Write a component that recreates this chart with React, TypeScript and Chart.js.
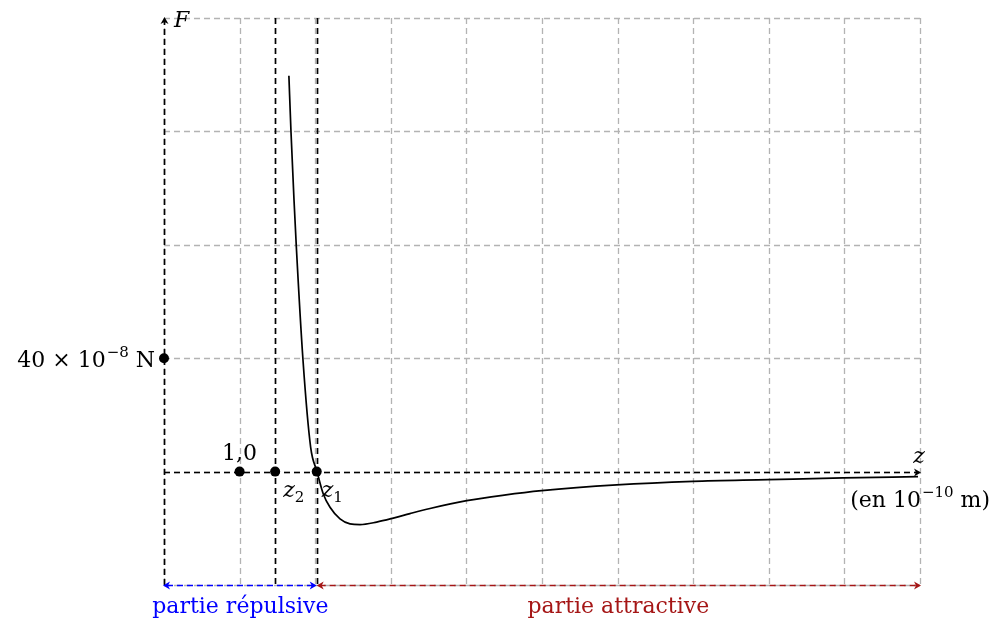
import React, { useEffect, useRef } from "react";
import { Chart, registerables } from "chart.js";

Chart.register(...registerables);

// Curve F(z): z in 1e-10 m, F in units of 40e-8 N
const zValues = [1.652, 1.68, 1.72, 1.75, 1.838, 1.94, 2.024, 2.107, 2.196, 2.328, 2.46, 2.593, 2.813, 3.033, 3.254, 3.519, 4.004, 4.5, 4.996, 5.988, 6.997, 7.989, 8.981, 9.974];
const forceValues = [3.49, 2.992, 2.39, 1.987, 0.988, 0.214, 0, -0.197, -0.315, -0.417, -0.461, -0.467, -0.445, -0.41, -0.37, -0.325, -0.256, -0.207, -0.168, -0.117, -0.086, -0.071, -0.056, -0.044];

const xGridValues = [0, 1, 2, 3, 4, 5, 6, 7, 8, 9, 10];
const yGridValues = [-1, 0, 1, 2, 3, 4];
const z2Value = 1.47;
const z1Value = 2.02;
const markPointsX = [0, 1, z2Value, z1Value];
const markPointsY = [1, 0, 0, 0];

const SERIF = "'DejaVu Serif', 'Liberation Serif', serif";
const BIG = `22px ${SERIF}`;
const SMALL = `15px ${SERIF}`;
const ITAL = `italic 22px ${SERIF}`;

function arrowHead(ctx: CanvasRenderingContext2D, x: number, y: number, dir: "up" | "right" | "left", color: string) {
  ctx.save();
  ctx.fillStyle = color;
  ctx.beginPath();
  if (dir === "up") {
    ctx.moveTo(x, y - 1);
    ctx.lineTo(x - 4, y + 6);
    ctx.lineTo(x, y + 4);
    ctx.lineTo(x + 4, y + 6);
  } else if (dir === "right") {
    ctx.moveTo(x + 1, y);
    ctx.lineTo(x - 6, y - 4);
    ctx.lineTo(x - 4, y);
    ctx.lineTo(x - 6, y + 4);
  } else {
    ctx.moveTo(x - 1, y);
    ctx.lineTo(x + 6, y - 4);
    ctx.lineTo(x + 4, y);
    ctx.lineTo(x + 6, y + 4);
  }
  ctx.closePath();
  ctx.fill();
  ctx.restore();
}

const overlayPlugin = {
  id: "overlay",
  beforeDatasetsDraw(chart: any) {
    const ctx: CanvasRenderingContext2D = chart.ctx;
    const xs = chart.scales.x;
    const ys = chart.scales.y;
    const left = xs.getPixelForValue(0);
    const right = xs.getPixelForValue(10);
    const top = ys.getPixelForValue(4);
    const bottom = ys.getPixelForValue(-1);
    ctx.save();
    // grid
    ctx.strokeStyle = "#b3b3b3";
    ctx.lineWidth = 1.3;
    ctx.setLineDash([6, 4]);
    for (const v of xGridValues) {
      const px = Math.round(xs.getPixelForValue(v)) + 0.5;
      ctx.beginPath();
      ctx.moveTo(px, top);
      ctx.lineTo(px, bottom);
      ctx.stroke();
    }
    for (const v of yGridValues) {
      const py = Math.round(ys.getPixelForValue(v)) + 0.5;
      ctx.beginPath();
      ctx.moveTo(left, py);
      ctx.lineTo(right, py);
      ctx.stroke();
    }
    // black dashed axes
    ctx.strokeStyle = "#000";
    ctx.lineWidth = 1.7;
    ctx.setLineDash([6, 4]);
    const y0 = Math.round(ys.getPixelForValue(0)) + 0.5;
    ctx.beginPath();
    ctx.moveTo(left, y0);
    ctx.lineTo(right - 3, y0);
    ctx.stroke();
    const x0 = Math.round(left) + 0.5;
    ctx.beginPath();
    ctx.moveTo(x0, bottom);
    ctx.lineTo(x0, top + 3);
    ctx.stroke();
    for (const v of [z2Value, z1Value]) {
      const px = Math.round(xs.getPixelForValue(v)) + 0.5;
      ctx.beginPath();
      ctx.moveTo(px, top);
      ctx.lineTo(px, bottom);
      ctx.stroke();
    }
    ctx.setLineDash([]);
    arrowHead(ctx, x0, top, "up", "#000");
    arrowHead(ctx, right, y0, "right", "#000");

    // bottom arrows
    const yb = Math.round(bottom) + 0.5;
    const xz1 = xs.getPixelForValue(z1Value);
    ctx.lineWidth = 1.5;
    ctx.setLineDash([6, 4]);
    ctx.strokeStyle = "#0000ff";
    ctx.beginPath();
    ctx.moveTo(left + 3, yb);
    ctx.lineTo(xz1 - 3, yb);
    ctx.stroke();
    ctx.strokeStyle = "#a51616";
    ctx.beginPath();
    ctx.moveTo(xz1 + 3, yb);
    ctx.lineTo(right - 3, yb);
    ctx.stroke();
    ctx.setLineDash([]);
    arrowHead(ctx, left, yb, "left", "#0000ff");
    arrowHead(ctx, xz1 - 1, yb, "right", "#0000ff");
    arrowHead(ctx, xz1 + 1, yb, "left", "#a51616");
    arrowHead(ctx, right, yb, "right", "#a51616");
    ctx.restore();
  },
  afterDatasetsDraw(chart: any) {
    const ctx: CanvasRenderingContext2D = chart.ctx;
    const xs = chart.scales.x;
    const ys = chart.scales.y;
    ctx.save();
    ctx.fillStyle = "#000";
    for (let i = 0; i < markPointsX.length; i++) {
      ctx.beginPath();
      ctx.arc(xs.getPixelForValue(markPointsX[i]), ys.getPixelForValue(markPointsY[i]), 5, 0, Math.PI * 2);
      ctx.fill();
    }
    const left = xs.getPixelForValue(0);
    const right = xs.getPixelForValue(10);
    const top = ys.getPixelForValue(4);
    const y0 = ys.getPixelForValue(0);
    const y1 = ys.getPixelForValue(1);
    const bottom = ys.getPixelForValue(-1);
    ctx.textBaseline = "alphabetic";

    // F
    ctx.font = ITAL;
    ctx.textAlign = "left";
    ctx.fillText("F", left + 10, top + 9);

    // 40 x 10^-8 N
    ctx.font = BIG;
    const p1 = "40 × 10";
    const p3 = " N";
    const w1 = ctx.measureText(p1).width;
    const w3 = ctx.measureText(p3).width;
    ctx.font = SMALL;
    const sup = "−8";
    const wSup = ctx.measureText(sup).width;
    const xStart = left - 9 - (w1 + wSup + w3 + 1);
    const base = y1 + 9;
    ctx.font = BIG;
    ctx.fillText(p1, xStart, base);
    ctx.font = SMALL;
    ctx.fillText(sup, xStart + w1 + 1, base - 10);
    ctx.font = BIG;
    ctx.fillText(p3, xStart + w1 + wSup + 1, base);

    // 1,0
    ctx.textAlign = "center";
    ctx.fillText("1,0", xs.getPixelForValue(1), y0 - 12);

    // z2, z1
    ctx.textAlign = "left";
    const zl = (x: number, sub: string) => {
      ctx.font = ITAL;
      ctx.fillText("z", x, y0 + 25);
      const w = ctx.measureText("z").width;
      ctx.font = SMALL;
      ctx.fillText(sub, x + w, y0 + 30);
    };
    zl(xs.getPixelForValue(z2Value) + 8, "2");
    zl(xs.getPixelForValue(z1Value) + 5, "1");

    // z axis label
    ctx.font = ITAL;
    ctx.textAlign = "center";
    ctx.fillText("z", right - 1, y0 - 9);

    // (en 10^-10 m)
    ctx.textAlign = "left";
    ctx.font = BIG;
    const a = "(en 10";
    const c = " m)";
    const wa = ctx.measureText(a).width;
    const wc = ctx.measureText(c).width;
    ctx.font = SMALL;
    const sb = "−10";
    const wb = ctx.measureText(sb).width;
    const xe = 990 - (wa + wb + wc + 1);
    const bb = y0 + 35;
    ctx.font = BIG;
    ctx.fillText(a, xe, bb);
    ctx.font = SMALL;
    ctx.fillText(sb, xe + wa + 1, bb - 10);
    ctx.font = BIG;
    ctx.fillText(c, xe + wa + wb + 1, bb);

    // bottom labels
    ctx.textAlign = "center";
    ctx.font = BIG;
    ctx.fillStyle = "#0000ff";
    const xz1 = xs.getPixelForValue(z1Value);
    ctx.fillText("partie répulsive", (left + xz1) / 2, bottom + 28);
    ctx.fillStyle = "#a51616";
    ctx.fillText("partie attractive", (xz1 + right) / 2, bottom + 28);
    ctx.restore();
  },
};

export default function App() {
  const canvasRef = useRef<HTMLCanvasElement | null>(null);
  useEffect(() => {
    const canvas = canvasRef.current;
    if (!canvas) return;
    const chart = new Chart(canvas, {
      type: "line",
      data: {
        datasets: [
          {
            data: zValues.map((z, i) => ({ x: z, y: forceValues[i] })),
            borderColor: "#000",
            borderWidth: 1.7,
            pointRadius: 0,
            cubicInterpolationMode: "monotone",
            fill: false,
          },
        ],
      },
      options: {
        animation: false,
        responsive: false,
        devicePixelRatio: 1,
        layout: { padding: { left: 164, right: 73, top: 18, bottom: 35 } },
        plugins: { legend: { display: false }, tooltip: { enabled: false } },
        scales: {
          x: { type: "linear", min: 0, max: 10, display: false },
          y: { type: "linear", min: -1, max: 4, display: false },
        },
      },
      plugins: [overlayPlugin],
    });
    return () => chart.destroy();
  }, []);
  return (
    <div style={{ position: "absolute", left: 0, top: 0, width: 993, height: 620, background: "#fff" }}>
      <canvas ref={canvasRef} width={993} height={620} />
    </div>
  );
}
